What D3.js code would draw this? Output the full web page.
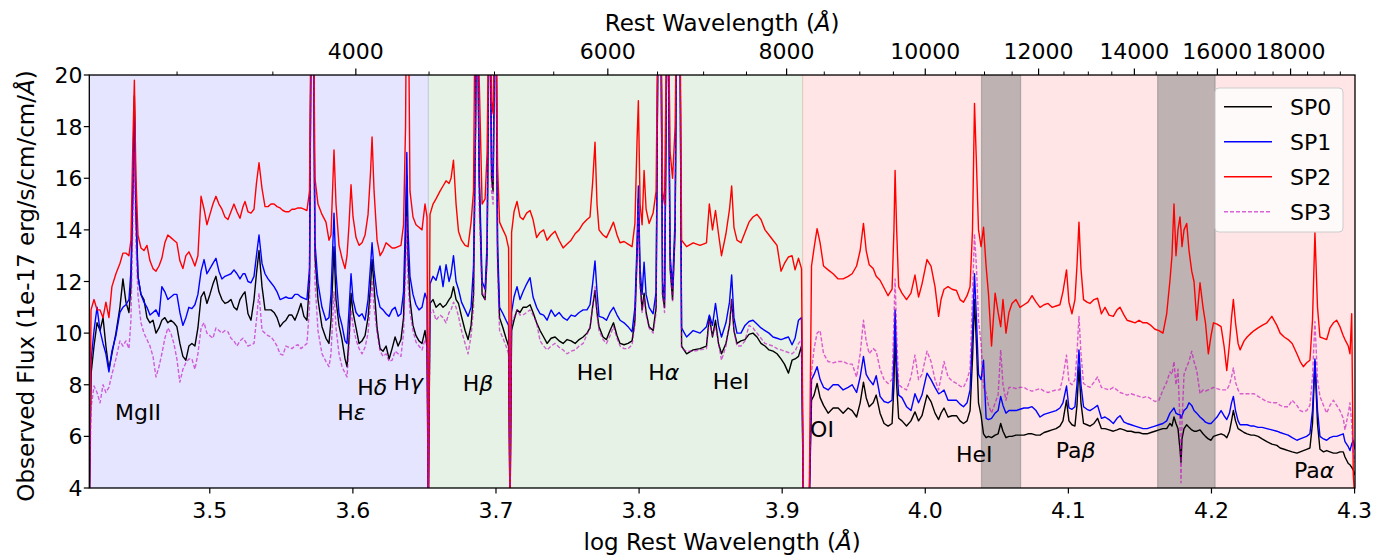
<!DOCTYPE html>
<html><head><meta charset="utf-8">
<script src="https://cdn.jsdelivr.net/npm/d3@7"></script>
<style>
body{margin:0;background:#fff}
text{font-family:"DejaVu Sans",sans-serif;fill:#000}
</style>
</head><body>
<svg id="chart" width="1384" height="556"></svg>
<script>
// ---------------- DATA ----------------
// log10 rest wavelength (Angstrom)
const logWave = [
3.4159,3.4170,3.4191,3.4212,3.4233,3.4254,3.4274,3.4295,3.4316,3.4344,3.4372,3.4393,3.4414,3.4435,3.4449,3.4463,3.4473,3.4484,3.4498,3.4519,
3.4540,3.4561,3.4582,3.4603,3.4624,3.4645,3.4665,3.4686,3.4707,3.4728,3.4749,3.4770,3.4791,3.4812,3.4833,3.4854,3.4875,3.4896,3.4917,3.4939,
3.4960,3.4980,3.5001,3.5022,3.5043,3.5064,3.5085,3.5106,3.5127,3.5148,3.5169,3.5190,3.5211,3.5232,3.5246,3.5267,3.5288,3.5309,3.5326,3.5344,
3.5365,3.5386,3.5407,3.5428,3.5449,3.5470,3.5491,3.5511,3.5532,3.5553,3.5574,3.5595,3.5616,3.5637,3.5658,3.5679,3.5697,3.5711,3.5721,3.5735,
3.5756,3.5784,3.5812,3.5833,3.5847,3.5868,3.5882,3.5903,3.5924,3.5945,3.5959,3.5973,3.5987,3.6001,3.6022,3.6043,3.6064,3.6085,3.6106,3.6123,
3.6134,3.6148,3.6169,3.6190,3.6211,3.6232,3.6253,3.6274,3.6295,3.6316,3.6336,3.6354,3.6368,3.6377,3.6385,3.6399,3.6420,3.6441,3.6462,3.6483,
3.6504,3.6518,3.6527,3.6539,3.6560,3.6581,3.6609,3.6630,3.6651,3.6672,3.6686,3.6703,3.6721,3.6738,3.6759,3.6784,3.6805,3.6826,3.6843,3.6857,
3.6868,3.6882,3.6903,3.6924,3.6938,3.6955,3.6969,3.6980,3.6997,3.7011,3.7025,3.7049,3.7070,3.7088,3.7098,3.7109,3.7126,3.7147,3.7168,3.7189,
3.7214,3.7238,3.7259,3.7284,3.7308,3.7333,3.7357,3.7385,3.7413,3.7441,3.7469,3.7497,3.7525,3.7553,3.7581,3.7609,3.7636,3.7657,3.7675,3.7692,
3.7706,3.7720,3.7748,3.7772,3.7797,3.7821,3.7846,3.7867,3.7895,3.7923,3.7951,3.7971,3.7986,3.7995,3.8007,3.8021,3.8035,3.8049,3.8070,3.8098,
3.8119,3.8136,3.8150,3.8164,3.8178,3.8199,3.8217,3.8234,3.8252,3.8266,3.8283,3.8297,3.8332,3.8378,3.8426,3.8471,3.8491,3.8513,3.8534,3.8555,
3.8576,3.8607,3.8632,3.8647,3.8663,3.8684,3.8712,3.8740,3.8768,3.8796,3.8824,3.8852,3.8880,3.8908,3.8936,3.8964,3.8992,3.9016,3.9044,3.9069,
3.9090,3.9114,3.9135,3.9149,3.9188,3.9205,3.9223,3.9244,3.9265,3.9289,3.9321,3.9356,3.9391,3.9426,3.9461,3.9489,3.9520,3.9545,3.9568,3.9587,
3.9608,3.9636,3.9657,3.9684,3.9712,3.9740,3.9768,3.9781,3.9789,3.9800,3.9814,3.9837,3.9869,3.9900,3.9928,3.9953,3.9977,4.0012,4.0040,4.0068,
4.0093,4.0110,4.0131,4.0159,4.0187,4.0218,4.0243,4.0267,4.0292,4.0313,4.0330,4.0344,4.0358,4.0372,4.0390,4.0407,4.0425,4.0442,4.0463,4.0488,
4.0509,4.0527,4.0543,4.0564,4.0585,4.0606,4.0634,4.0662,4.0690,4.0718,4.0746,4.0774,4.0802,4.0830,4.0858,4.0886,4.0914,4.0941,4.0962,4.0987,
4.1004,4.1025,4.1046,4.1060,4.1074,4.1088,4.1106,4.1130,4.1151,4.1179,4.1204,4.1231,4.1256,4.1284,4.1314,4.1340,4.1361,4.1389,4.1410,4.1438,
4.1466,4.1494,4.1522,4.1550,4.1577,4.1605,4.1633,4.1661,4.1687,4.1710,4.1724,4.1738,4.1752,4.1766,4.1780,4.1787,4.1794,4.1808,4.1827,4.1843,
4.1862,4.1878,4.1897,4.1920,4.1941,4.1958,4.1978,4.1997,4.2014,4.2039,4.2067,4.2088,4.2107,4.2126,4.2140,4.2153,4.2168,4.2186,4.2200,4.2228,
4.2249,4.2277,4.2298,4.2326,4.2354,4.2387,4.2422,4.2457,4.2480,4.2508,4.2536,4.2564,4.2597,4.2620,4.2642,4.2665,4.2688,4.2706,4.2723,4.2741,
4.2758,4.2783,4.2805,4.2828,4.2852,4.2875,4.2898,4.2921,4.2933,4.2956,4.2968,4.2980,4.2991,4.3003
];
// Observed flux, 1e-17 erg/s/cm2/A
const sp0 = [
3.5,8.4,9.5,10.4,10.1,10.6,9.5,8.6,9.2,10.0,11.0,12.1,11.2,10.8,11.8,16.0,19.2,15.0,12.2,11.5,
11.3,10.6,10.4,10.5,10.0,10.2,10.5,10.6,10.4,10.5,10.4,10.25,9.6,9.1,8.95,9.5,9.6,9.5,10.2,11.4,
11.6,11.15,11.5,11.9,12.2,11.6,11.3,11.15,11.2,11.3,11.0,10.9,11.3,11.5,11.6,10.75,10.5,11.3,12.3,13.2,
11.8,10.9,10.9,10.9,10.8,10.6,10.25,10.4,10.5,10.7,10.7,10.5,10.8,11.15,10.65,10.5,12.0,25,25,13.0,
11.3,10.25,9.8,9.6,10.5,13.35,11.3,10.3,9.75,9.0,8.7,9.8,11.55,10.8,10.2,9.6,9.7,9.9,10.6,11.8,
12.85,11.8,10.2,9.4,9.3,9.5,9.0,9.4,9.85,9.5,9.75,10.6,13.5,16.1,13.0,11.3,10.3,9.9,9.7,9.6,
10.1,9.5,3,11.15,11.3,11.0,11.15,11.0,11.1,11.3,11.4,11.8,11.3,11.15,10.65,10.1,9.75,10.3,11.5,18,
25,16,11.5,11.3,13,25,16,15.5,25,13,10.6,10.2,9.8,9.5,3,10.1,10.5,10.9,10.8,11.0,
11.0,11.1,10.8,10.4,10.1,9.85,9.6,9.8,9.85,9.7,9.6,9.75,9.7,9.6,9.75,9.85,10.0,10.2,11.0,11.65,
10.8,10.25,9.85,9.75,10.1,10.4,9.9,9.6,9.55,9.6,9.7,10.5,13.0,15.2,12.0,10.9,11.55,10.8,10.25,10.1,
11.0,25,25,11.5,11.0,25,12.5,11.3,14.0,25,25,9.5,9.2,9.35,9.4,9.5,10.65,9.85,10.5,9.6,
9.2,9.6,10.3,11.3,10.1,9.6,9.7,9.75,9.95,10.0,9.85,9.6,9.5,9.35,9.3,9.2,9.0,8.8,8.45,8.95,
9.0,9.1,9.5,3,3,7.4,7.6,8.05,7.5,7.2,6.9,7.1,7.1,6.9,7.1,7.0,6.75,7.3,8.1,7.5,
7.15,7.3,7.6,6.9,6.5,6.4,6.5,8.0,10.0,8.0,6.7,6.6,6.4,6.6,6.95,6.6,6.8,7.6,7.35,6.9,
6.65,6.9,7.1,6.75,6.8,6.8,6.6,6.5,6.6,7.0,9.0,11.3,9.5,7.3,6.8,6.1,5.95,6.0,5.95,6.05,
6.1,6.5,6.2,5.95,6.0,6.0,6.05,6.05,6.05,6.1,6.1,6.05,6.05,6.15,6.2,6.25,6.3,6.4,6.6,7.4,
6.6,6.45,6.4,7.2,8.7,7.3,6.5,6.45,6.4,6.5,6.7,6.3,6.3,6.25,6.2,6.25,6.3,6.25,6.2,6.2,
6.15,6.15,6.1,6.1,6.15,6.2,6.25,6.3,6.3,6.5,6.4,6.75,6.5,6.3,5.5,5.0,5.9,6.3,6.45,6.35,
6.25,6.2,6.2,6.25,6.1,6.0,5.9,5.85,6.0,6.05,6.1,6.05,5.95,6.2,6.6,7.0,6.6,6.3,6.25,6.15,
6.1,6.05,6.05,6.0,5.9,5.8,5.7,5.65,5.55,5.5,5.45,5.4,5.35,5.4,5.45,5.5,5.55,6.5,8.9,6.5,
5.5,5.4,5.45,5.4,5.35,5.35,5.4,5.4,5.2,4.95,4.9,4.8,4.7,4.5
];
const sp1 = [
3.5,8.9,10.1,11.0,10.1,9.6,9.2,8.5,9.3,9.9,10.8,11.0,11.1,11.3,12.4,15.5,18.6,14.5,12.2,11.5,
11.2,11.0,10.7,10.8,10.9,10.65,11.8,11.6,11.3,11.4,11.5,11.5,10.8,10.3,10.6,11.0,10.95,11.1,11.5,12.4,
12.85,12.3,12.5,12.7,12.9,12.4,12.1,12.2,12.25,12.3,12.45,12.3,12.1,12.3,12.3,12.0,11.95,12.2,13.0,13.8,
12.7,12.3,12.1,11.95,11.8,11.6,11.3,11.35,11.4,11.35,11.35,11.5,11.5,11.4,11.35,11.3,12.5,25,25,13.5,
11.95,11.0,10.5,10.6,11.5,14.65,12.3,10.75,10.3,9.7,9.6,10.9,12.3,11.3,10.8,10.65,10.75,10.5,11.3,12.6,
13.5,12.4,11.5,11.0,10.9,10.75,10.65,10.9,11.0,10.65,10.75,11.6,14.5,17.0,14.0,12.2,11.5,11.1,10.9,11.0,
11.55,11.3,3,11.9,12.2,12.05,12.6,11.8,12.65,12.0,12.3,13.0,12.0,11.7,11.2,10.9,10.65,11.0,12.6,18,
25,16.5,12.0,11.7,13.5,25,16.5,16,25,13.5,11.0,10.75,10.5,10.3,3,10.8,11.4,11.8,11.3,11.6,
11.9,12.15,11.4,11.0,10.75,10.7,10.5,10.9,10.65,10.8,10.6,10.5,10.7,10.65,10.8,10.9,10.9,11.1,11.9,12.8,
11.6,10.65,10.6,10.5,10.8,11.0,10.7,10.5,10.4,10.25,10.05,11.0,13.5,15.7,12.5,11.5,12.75,11.5,11.0,10.75,
11.6,25,25,12.0,11.3,25,13.0,11.8,14.5,25,25,10.2,9.85,10.1,10.0,10.25,10.7,10.3,11.15,10.3,
9.85,10.4,11.2,12.25,10.6,10.0,10.0,10.3,10.45,10.5,10.35,10.2,10.1,10.0,9.85,9.8,9.75,9.8,9.85,9.55,
9.8,10.5,10.6,3,3,8.2,8.4,8.7,8.2,7.9,7.8,8.0,8.0,7.8,7.9,8.0,7.7,8.3,9.1,8.4,
8.2,8.0,8.35,7.55,7.35,7.3,7.4,9.0,10.9,8.8,7.6,7.5,7.15,7.0,7.65,7.3,7.6,8.45,8.2,7.9,
7.65,7.7,7.8,7.4,7.4,7.4,7.25,7.15,7.3,7.8,10.0,12.3,10.5,8.4,8.2,8.95,6.7,6.65,6.7,6.9,
7.0,7.55,7.2,6.9,7.0,7.0,7.0,7.05,7.1,7.1,7.15,7.0,6.75,6.85,6.9,6.95,7.0,7.1,7.3,7.95,
7.1,7.05,7.15,8.0,9.35,8.0,7.15,7.05,7.0,7.1,7.2,6.7,6.75,6.65,6.5,6.7,6.8,6.55,6.5,6.45,
6.4,6.35,6.3,6.3,6.35,6.4,6.45,6.5,6.6,6.9,7.0,7.1,6.9,6.85,6.85,6.7,6.8,7.0,7.1,7.3,
7.2,7.0,6.9,6.75,6.65,6.55,6.5,6.5,6.6,6.75,7.0,6.8,6.65,6.9,7.3,7.55,7.0,6.6,6.45,6.45,
6.45,6.4,6.4,6.35,6.35,6.3,6.25,6.2,6.15,6.1,6.05,5.95,5.85,5.9,5.95,6.0,6.1,7.0,9.0,7.0,
6.0,5.9,5.85,5.95,6.0,6.0,6.05,6.1,5.8,5.6,5.45,5.7,5.85,5.5
];
const sp2 = [
3.5,10.9,11.3,10.9,10.9,10.6,11.2,10.6,11.8,12.3,12.7,13.1,13.1,13.0,13.6,17.5,19.8,16.0,13.8,13.3,
13.2,13.4,12.8,12.5,12.4,12.6,12.9,13.5,13.8,13.7,13.6,13.5,12.8,12.5,13.0,13.15,12.9,12.6,13.0,15.3,
14.8,14.2,14.6,15.0,15.3,15.0,14.8,14.5,14.4,14.7,15.0,14.7,14.45,14.9,15.1,14.7,14.65,14.8,15.8,16.6,
15.6,14.9,14.9,15.0,15.0,14.9,14.85,14.75,14.7,14.7,14.8,14.8,14.85,14.85,14.8,14.75,15.5,25,25,16.0,
15.0,14.6,14.3,13.6,13.8,17.1,15.0,13.4,12.9,12.5,13.0,14.2,15.75,14.5,13.7,13.4,13.5,13.8,14.6,16.2,
17.6,15.5,13.6,13.0,13.2,13.5,13.4,13.3,13.3,13.35,13.4,14.2,18.0,25,25,15.5,14.5,14.2,14.1,14.0,
15.0,14.5,3,14.6,15.0,15.2,15.5,15.7,15.9,15.8,16.0,16.7,15.0,13.95,13.6,13.4,13.35,14.3,15.5,25,
25,20,15.0,15.2,17,25,19,18.5,25,16.5,14.3,14.0,13.75,13.3,3,13.9,14.7,15.1,14.5,14.4,
14.65,14.75,14.4,13.7,13.9,14.0,13.6,13.8,13.95,13.6,13.3,13.45,13.6,13.85,14.0,14.25,14.4,14.5,15.8,17.4,
15.0,14.0,13.8,13.7,14.0,14.3,13.8,13.5,13.55,13.45,13.35,14.25,17.5,19.0,15.0,14.2,16.3,14.8,14.25,14.65,
15.5,25,25,15.5,15.0,25,17.0,16.0,18.0,25,25,13.6,13.35,13.5,13.4,13.5,15.0,14.0,14.75,13.85,
13.0,13.85,14.8,15.7,14.1,13.6,13.5,13.9,14.3,14.5,14.6,14.4,14.0,13.8,13.6,13.4,12.4,12.7,12.95,13.0,
12.45,12.9,12.5,3,3,12.6,13.3,14.05,13.5,12.6,12.45,12.3,12.1,12.1,12.2,12.3,12.6,13.2,14.25,13.2,
12.65,12.5,12.2,12.05,11.75,11.45,11.7,14.0,16.3,14.0,11.8,11.55,11.3,11.55,12.25,11.4,11.9,12.85,12.6,11.8,
10.65,11.3,11.7,11.8,11.7,11.65,11.3,11.2,11.45,11.8,14.0,18.9,16.5,14.0,13.35,14.1,12.6,11.5,9.5,11.55,
10.8,10.25,11.3,10.0,10.8,11.15,11.3,11.0,11.1,11.2,11.45,11.2,11.0,11.1,11.15,11.0,11.05,11.1,11.6,12.45,
11.2,10.75,11.3,12.6,14.3,12.5,11.3,11.2,11.15,11.3,11.35,10.75,11.0,10.7,10.65,10.9,11.0,10.7,10.5,10.45,
10.4,10.5,10.4,10.4,10.3,10.15,10.1,10.0,10.75,12.05,13.0,15.0,13.0,14.0,14.5,14.0,13.35,14.0,14.25,13.2,
12.4,12.0,10.5,11.95,11.0,10.4,9.2,9.9,10.4,10.35,10.25,9.5,8.55,9.6,10.6,11.3,10.4,9.6,9.35,9.7,
9.85,10.0,10.1,10.2,10.3,10.4,10.65,10.3,10.0,9.85,9.75,9.6,9.2,8.9,8.7,8.85,8.95,10.5,13.9,11.0,
9.85,9.8,9.75,10.2,10.4,10.5,10.25,9.9,9.75,9.5,9.2,10.75,4.5,3.5
];
const sp3 = [
3.5,7.1,7.95,7.7,7.3,8.0,7.7,7.9,8.4,9.0,9.7,9.5,9.7,9.4,10.5,14.5,17.0,13.5,11.5,10.4,
10.0,9.75,9.5,9.1,8.3,8.7,9.2,9.8,10.2,10.0,9.6,9.0,8.1,8.6,8.85,9.0,9.0,8.6,9.2,10.2,
10.4,10.0,9.9,9.8,10.2,10.1,10.0,10.1,10.05,9.8,9.7,9.5,9.7,9.8,9.7,9.5,9.55,9.6,10.5,11.55,
10.1,10.0,9.9,9.85,9.7,9.5,9.2,9.15,9.5,9.45,9.4,9.5,9.55,9.4,9.5,9.6,11.0,25,25,12.0,
10.1,9.2,8.9,8.7,9.2,11.6,10.2,9.2,8.7,8.45,8.3,9.5,10.9,10.3,9.75,9.4,9.2,9.45,10.0,11.2,
12.05,11.0,10.0,9.3,9.1,9.2,8.9,8.95,9.3,9.2,9.1,10.0,12.5,14.5,12.0,10.8,10.1,9.65,9.5,9.35,
9.75,9.5,3,10.75,10.9,10.5,10.7,10.6,10.4,10.8,10.9,11.2,11.0,10.65,10.1,9.6,9.2,9.9,11.0,17,
25,15,11.6,11.3,12.8,25,15.5,15,25,12.5,10.1,9.8,9.5,9.2,3,10.4,10.6,10.9,10.7,10.7,
10.8,10.9,10.7,10.4,9.7,9.5,9.35,9.5,9.6,9.45,9.35,9.2,9.3,9.35,9.5,9.6,9.95,10.2,11.0,11.8,
10.7,10.1,9.75,9.6,9.9,10.25,9.8,9.5,9.4,9.4,9.55,10.3,13.0,15.0,11.8,10.8,11.4,10.7,10.2,10.0,
10.8,25,25,11.5,10.8,25,12.5,11.2,14.0,25,25,9.4,9.3,9.3,9.35,9.4,10.5,9.9,10.25,9.6,
8.95,9.5,10.4,11.3,10.1,9.5,9.5,9.7,10.3,10.2,10.0,9.8,9.6,9.55,9.5,9.4,9.35,9.3,9.25,9.2,
9.3,9.6,9.75,3,3,8.5,9.4,10.0,10.1,9.2,8.9,8.85,8.9,8.9,8.8,8.8,8.3,9.2,10.5,9.7,
9.2,9.4,9.3,8.6,8.2,8.05,8.2,10.5,12.1,10.0,8.0,7.9,7.8,8.3,9.15,8.2,8.4,9.3,8.9,8.2,
7.8,8.3,8.9,8.3,8.15,8.05,7.95,7.9,8.2,8.6,11.5,13.85,12.5,10.5,9.6,7.9,7.7,7.2,6.9,7.3,
7.6,9.35,8.0,7.4,7.9,7.9,7.85,7.9,7.9,7.8,7.75,7.8,7.85,7.75,7.7,7.75,7.8,7.8,8.3,9.15,
8.1,8.0,8.2,9.2,10.65,9.2,8.05,7.95,7.9,8.1,8.3,7.9,7.85,7.8,7.9,7.8,7.7,7.65,7.6,7.65,
7.6,7.55,7.5,7.55,7.45,7.35,7.4,7.8,8.1,8.5,8.4,8.9,8.0,8.6,6.5,4.2,6.5,8.4,8.7,8.9,
9.3,8.9,8.55,7.65,7.8,7.75,7.8,7.85,7.9,7.85,7.8,7.8,7.8,8.0,8.3,8.65,8.1,7.8,7.65,7.65,
7.65,7.65,7.65,7.55,7.45,7.35,7.3,7.3,7.2,7.15,7.15,7.4,7.2,7.0,6.95,7.0,7.2,8.3,10.45,8.2,
7.55,7.2,6.9,7.2,7.4,7.2,7.0,6.7,6.25,6.9,7.3,6.5,5.35,5.0
];
const seriesNames = ["SP0","SP1","SP2","SP3"];
const xDomain = [3.4158, 4.3003];
const yDomain = [4, 20];
const xTicks = [3.5,3.6,3.7,3.8,3.9,4.0,4.1,4.2,4.3];
const yTicks = [4,6,8,10,12,14,16,18,20];
const topMajor = [4000,6000,8000,10000,12000,14000,16000,18000];
const topMinor = [3000,3500,4500,5000,5500,6500,7000,7500,8500,9000,9500,10500,11000,11500,12500,13000,13500,14500,15000,15500,16500,17000,17500,18500,19000,19500];
const armEdges = [3.4158, 3.6527, 3.9143, 4.3003];
const tellurics = [[4.0393, 4.0666], [4.1624, 4.2025]];
const lineNames = ["MgII","Hε","Hδ","Hγ","Hβ","HeI","Hα","HeI","OI","HeI","Paβ","Paα"];
const lineWave  = [3.4338,3.5891,3.6031,3.6283,3.6768,3.7565,3.8064,3.8514,3.9195,4.0215,4.0911,4.2577];
const lineFlux  = [6.63,6.63,7.62,7.78,7.76,8.18,8.18,7.83,5.99,5.02,5.15,4.37];

// ---------------- STYLE / LAYOUT ----------------
const L = 89.3, R = 1355, T = 75, B = 488;
const colors = ["#000000","#0000ff","#ff0000","#c000c0"];
const armColors = ["#0000ff","#008000","#ff0000"];
const FS = 22;

const svg = d3.select("#chart");
const x = d3.scaleLinear().domain(xDomain).range([L, R]);
const xTop = d3.scaleLog().domain(xDomain.map(v => Math.pow(10, v))).range([L, R]);
const y = d3.scaleLinear().domain(yDomain).range([B, T]);

svg.append("defs").append("clipPath").attr("id","clip")
  .append("rect").attr("x",L).attr("y",T).attr("width",R-L).attr("height",B-T);

const plot = svg.append("g").attr("clip-path","url(#clip)");

// arm backgrounds
for (let i = 0; i < 3; i++) {
  plot.append("rect")
    .attr("x", x(armEdges[i])).attr("y", T)
    .attr("width", x(armEdges[i+1]) - x(armEdges[i])).attr("height", B - T)
    .attr("fill", armColors[i]).attr("fill-opacity", 0.1)
    .attr("stroke", armColors[i]).attr("stroke-opacity", 0.1).attr("stroke-width", 1);
}
// telluric bands
tellurics.forEach(t => {
  plot.append("rect")
    .attr("x", x(t[0])).attr("y", T - 2)
    .attr("width", x(t[1]) - x(t[0])).attr("height", B - T + 4)
    .attr("fill", "#808080").attr("fill-opacity", 0.5)
    .attr("stroke", "#808080").attr("stroke-opacity", 0.5).attr("stroke-width", 1.2);
});

const series = [sp0, sp1, sp2, sp3];
const line = d3.line().x(d => x(d[0])).y(d => y(d[1]));
series.forEach((s, i) => {
  const pts = logWave.map((w, j) => [w, s[j]]);
  const p = plot.append("path").datum(pts)
    .attr("d", line).attr("fill", "none")
    .attr("stroke", colors[i]).attr("stroke-width", 1.4)
    .attr("stroke-linejoin", "round");
  if (i === 3) p.attr("stroke-dasharray", "4,2").attr("stroke-opacity", 0.6);
});

// annotations
lineNames.forEach((n, i) => {
  const t = svg.append("text").attr("x", x(lineWave[i])).attr("y", y(lineFlux[i]))
    .style("font-size", FS + "px");
  const last = n.slice(-1);
  if (/[α-ω]/.test(last)) {
    t.append("tspan").text(n.slice(0, -1));
    t.append("tspan").attr("font-style", "italic").text(last);
  } else t.text(n);
});

// frame
svg.append("rect").attr("x", L).attr("y", T).attr("width", R - L).attr("height", B - T)
  .attr("fill", "none").attr("stroke", "#000").attr("stroke-width", 1.3);

// bottom ticks
xTicks.forEach(v => {
  svg.append("line").attr("x1", x(v)).attr("x2", x(v)).attr("y1", B).attr("y2", B + 5.5)
    .attr("stroke", "#000").attr("stroke-width", 1.2);
  svg.append("text").attr("x", x(v)).attr("y", 518).attr("text-anchor", "middle")
    .style("font-size", FS + "px").text(v.toFixed(1));
});
// left ticks
yTicks.forEach(v => {
  svg.append("line").attr("x1", L - 5.5).attr("x2", L).attr("y1", y(v)).attr("y2", y(v))
    .attr("stroke", "#000").attr("stroke-width", 1.2);
  svg.append("text").attr("x", 82.5).attr("y", y(v) + 8).attr("text-anchor", "end")
    .style("font-size", FS + "px").text(v);
});
// top ticks
topMajor.forEach(v => {
  svg.append("line").attr("x1", xTop(v)).attr("x2", xTop(v)).attr("y1", T).attr("y2", T - 6.5)
    .attr("stroke", "#000").attr("stroke-width", 1.2);
  svg.append("text").attr("x", xTop(v)).attr("y", 59).attr("text-anchor", "middle")
    .style("font-size", FS + "px").text(v);
});
topMinor.forEach(v => {
  svg.append("line").attr("x1", xTop(v)).attr("x2", xTop(v)).attr("y1", T).attr("y2", T - 3.5)
    .attr("stroke", "#000").attr("stroke-width", 1);
});

// axis labels
function label(sel, pre) {
  sel.append("tspan").text(pre);
  sel.append("tspan").attr("font-style", "italic").text("Å");
  sel.append("tspan").text(")");
}
label(svg.append("text").attr("x", (L + R) / 2).attr("y", 550).attr("text-anchor", "middle")
  .style("font-size", "23px"), "log Rest Wavelength (");
label(svg.append("text").attr("x", (L + R) / 2).attr("y", 30.5).attr("text-anchor", "middle")
  .style("font-size", "23px"), "Rest Wavelength (");
label(svg.append("text").attr("transform", "translate(34,286) rotate(-90)").attr("text-anchor", "middle")
  .style("font-size", "23px"), "Observed Flux (1e-17 erg/s/cm/cm/");

// legend
const lg = svg.append("g");
lg.append("rect").attr("x", 1215).attr("y", 88).attr("width", 128).attr("height", 144)
  .attr("rx", 4).attr("fill", "#fff").attr("fill-opacity", 0.8)
  .attr("stroke", "#cccccc").attr("stroke-width", 1);
seriesNames.forEach((n, i) => {
  const cy = 106.7 + i * 35;
  const l = lg.append("line").attr("x1", 1224).attr("x2", 1272).attr("y1", cy).attr("y2", cy)
    .attr("stroke", colors[i]).attr("stroke-width", 1.4);
  if (i === 3) l.attr("stroke-dasharray", "4,2").attr("stroke-opacity", 0.6);
  lg.append("text").attr("x", 1290).attr("y", cy + 8.3).style("font-size", FS + "px").text(n);
});
</script>
</body></html>
